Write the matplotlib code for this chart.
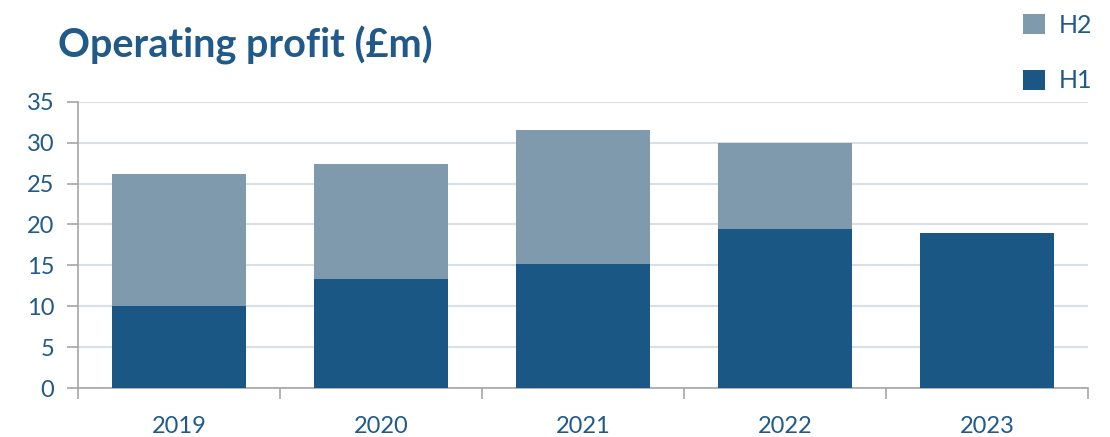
import numpy as np
import matplotlib.pyplot as plt

years = ['2019', '2020', '2021', '2022', '2023']
h1 = [10.0, 13.3, 15.2, 19.4, 19.0]
h2 = [16.2, 14.1, 16.4, 10.6, 0.0]

c_h1 = '#1A5785'
c_h2 = '#7F9AAC'
c_txt = '#1F5A8A'
c_axis = '#A6A6A6'

plt.rcParams['font.family'] = ['Lato', 'DejaVu Sans']

fig = plt.figure(figsize=(11.1, 4.37), dpi=100)
ax = fig.add_axes([0.0703, 0.112, 0.910, 0.655])

x = np.arange(len(years))
ax.bar(x, h1, width=0.667, color=c_h1, zorder=3, label='H1')
ax.bar(x, h2, bottom=h1, width=0.667, color=c_h2, zorder=3, label='H2')

ax.set_xlim(-0.5, len(years) - 0.5)
ax.set_ylim(0, 35)
ax.set_yticks(range(0, 36, 5))
ax.yaxis.grid(True, color='#D8E0E5', linewidth=1.5, zorder=0)
ax.set_axisbelow(True)

ax.set_xticks(x)
ax.set_xticklabels(years)
ax.set_xticks(np.arange(-0.5, len(years), 1), minor=True)
ax.tick_params(axis='x', which='major', length=0, pad=20, labelsize=17, labelcolor=c_txt)
ax.tick_params(axis='x', which='minor', length=8, color=c_axis, width=1.2)
ax.tick_params(axis='y', length=8, color=c_axis, width=1.2, labelsize=17, labelcolor=c_txt, pad=9)

for s in ['top', 'right']:
    ax.spines[s].set_visible(False)
for s in ['left', 'bottom']:
    ax.spines[s].set_color(c_axis)
    ax.spines[s].set_linewidth(1.2)

fig.text(0.052, 0.895, 'Operating profit (£m)', fontsize=28.5, fontweight='bold',
         color=c_txt, va='center', ha='left')

handles, labels = ax.get_legend_handles_labels()
leg = fig.legend(handles[::-1], labels[::-1], loc='upper right', bbox_to_anchor=(1.004, 1.02),
                 frameon=False, fontsize=18, handlelength=0.85, handleheight=0.85,
                 handletextpad=0.55, labelspacing=1.3, labelcolor=c_txt)

fig.savefig('out.png', dpi=100)
